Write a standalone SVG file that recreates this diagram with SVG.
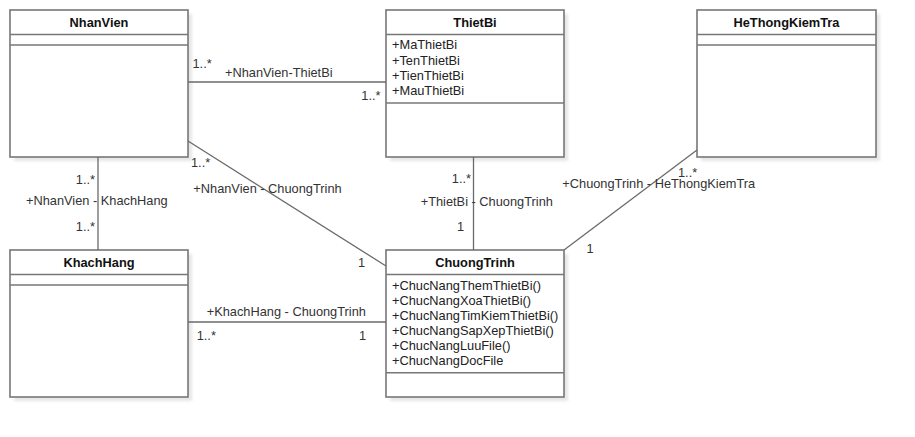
<svg xmlns="http://www.w3.org/2000/svg" width="915" height="437" viewBox="0 0 915 437">
<defs>
<filter id="sh" x="-10%" y="-10%" width="130%" height="130%">
<feGaussianBlur stdDeviation="1.5"/>
</filter>
</defs>
<style>
.box{fill:#ffffff;stroke:#777777;stroke-width:1.6}
.shadow{fill:#e6e6e6;filter:url(#sh)}
.sep{stroke:#777777;stroke-width:1.6;fill:none}
.title{font-family:"Liberation Sans",Arial,sans-serif;font-size:12.8px;font-weight:bold;fill:#111111;text-anchor:middle}
.attr{font-family:"Liberation Sans",Arial,sans-serif;font-size:12.8px;fill:#222222}
.lbl{font-family:"Liberation Sans",Arial,sans-serif;font-size:12.8px;fill:#333333}
.end{text-anchor:end}
.conn{stroke:#6a6a6a;stroke-width:1.3;fill:none}
</style>
<rect width="915" height="437" fill="#ffffff"/>

<g id="NhanVien">
<rect class="shadow" x="14" y="14" width="178" height="147"/>
<rect class="box" x="10" y="10" width="178" height="147"/>
<line class="sep" x1="10" y1="34.5" x2="188" y2="34.5"/>
<line class="sep" x1="10" y1="45" x2="188" y2="45"/>
<text class="title" x="99" y="27">NhanVien</text>
</g>

<g id="ThietBi">
<rect class="shadow" x="390" y="14" width="178" height="147"/>
<rect class="box" x="386" y="10" width="178" height="147"/>
<line class="sep" x1="386" y1="34.5" x2="564" y2="34.5"/>
<line class="sep" x1="386" y1="103" x2="564" y2="103"/>
<text class="title" x="475" y="27">ThietBi</text>
<text class="attr" x="392" y="49">+MaThietBi</text>
<text class="attr" x="392" y="64.5">+TenThietBi</text>
<text class="attr" x="392" y="80">+TienThietBi</text>
<text class="attr" x="392" y="95.3">+MauThietBi</text>
</g>

<g id="HeThongKiemTra">
<rect class="shadow" x="701" y="14" width="179" height="147"/>
<rect class="box" x="697" y="10" width="179" height="147"/>
<line class="sep" x1="697" y1="34.5" x2="876" y2="34.5"/>
<line class="sep" x1="697" y1="45" x2="876" y2="45"/>
<text class="title" x="786.5" y="27">HeThongKiemTra</text>
</g>

<g id="KhachHang">
<rect class="shadow" x="14" y="254" width="178" height="147"/>
<rect class="box" x="10" y="250" width="178" height="147"/>
<line class="sep" x1="10" y1="274.5" x2="188" y2="274.5"/>
<line class="sep" x1="10" y1="285" x2="188" y2="285"/>
<text class="title" x="99" y="267">KhachHang</text>
</g>

<g id="ChuongTrinh">
<rect class="shadow" x="390" y="254" width="178" height="147"/>
<rect class="box" x="386" y="250" width="178" height="147"/>
<line class="sep" x1="386" y1="274.5" x2="564" y2="274.5"/>
<line class="sep" x1="386" y1="372.7" x2="564" y2="372.7"/>
<text class="title" x="475" y="267">ChuongTrinh</text>
<text class="attr" x="392" y="289.5">+ChucNangThemThietBi()</text>
<text class="attr" x="392" y="304.8">+ChucNangXoaThietBi()</text>
<text class="attr" x="392" y="320">+ChucNangTimKiemThietBi()</text>
<text class="attr" x="392" y="335">+ChucNangSapXepThietBi()</text>
<text class="attr" x="392" y="350.3">+ChucNangLuuFile()</text>
<text class="attr" x="392" y="364.5">+ChucNangDocFile</text>
</g>

<g id="connectors">
<line class="conn" x1="188" y1="82" x2="386" y2="82"/>
<line class="conn" x1="98" y1="157" x2="98" y2="250"/>
<line class="conn" x1="188" y1="141" x2="386" y2="266"/>
<line class="conn" x1="473.5" y1="157" x2="473.5" y2="250"/>
<line class="conn" x1="564" y1="250" x2="697" y2="150"/>
<line class="conn" x1="188" y1="322" x2="386" y2="322"/>

<text class="lbl" x="192.5" y="68">1..*</text>
<text class="lbl" x="225" y="76.5">+NhanVien-ThietBi</text>
<text class="lbl end" x="380.5" y="100">1..*</text>

<text class="lbl end" x="95" y="183.5">1..*</text>
<text class="lbl" x="26" y="205">+NhanVien - KhachHang</text>
<text class="lbl end" x="95" y="231">1..*</text>

<text class="lbl" x="191" y="167.3">1..*</text>
<text class="lbl" x="193.3" y="193">+NhanVien - ChuongTrinh</text>
<text class="lbl" x="358" y="267">1</text>

<text class="lbl end" x="471" y="183">1..*</text>
<text class="lbl" x="420.7" y="206">+ThietBi - ChuongTrinh</text>
<text class="lbl" x="457" y="230.7">1</text>

<text class="lbl" x="678" y="177">1..*</text>
<text class="lbl" x="562.3" y="188">+ChuongTrinh - HeThongKiemTra</text>
<text class="lbl" x="586.5" y="252.7">1</text>

<text class="lbl" x="206.7" y="315.7">+KhachHang - ChuongTrinh</text>
<text class="lbl" x="196.7" y="340">1..*</text>
<text class="lbl end" x="366" y="340">1</text>
</g>
</svg>
